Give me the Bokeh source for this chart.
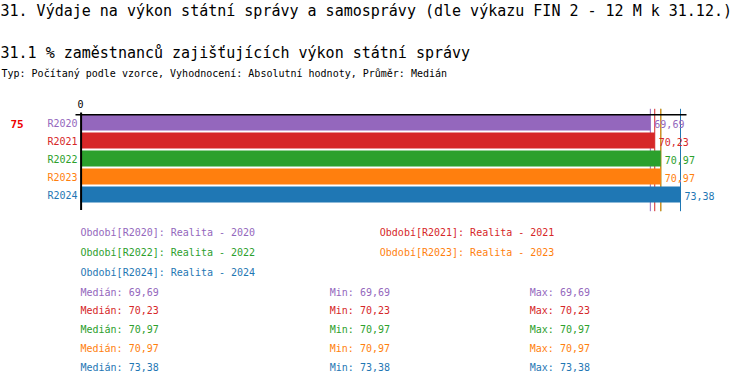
from bokeh.plotting import figure
from bokeh.models import Range1d
from bokeh.core.properties import value
from bokeh.embed import file_html
from bokeh.resources import INLINE

# ---- data ----
title_text = "31. Výdaje na výkon státní správy a samosprávy (dle výkazu FIN 2 - 12 M k 31.12.)"
subtitle_text = "31.1 % zaměstnanců zajišťujících výkon státní správy"
info_text = "Typ: Počítaný podle vzorce, Vyhodnocení: Absolutní hodnoty, Průměr: Medián"
count_label = "75"
periods = ["R2020", "R2021", "R2022", "R2023", "R2024"]
period_names = ["Realita - 2020", "Realita - 2021", "Realita - 2022", "Realita - 2023", "Realita - 2024"]
values = [69.69, 70.23, 70.97, 70.97, 73.38]
medians = [69.69, 70.23, 70.97, 70.97, 73.38]
mins = [69.69, 70.23, 70.97, 70.97, 73.38]
maxs = [69.69, 70.23, 70.97, 70.97, 73.38]
colors = ["#9467bd", "#d62728", "#2ca02c", "#ff7f0e", "#1f77b4"]
x_ticks = [0]

# ---- layout ----
MONO = value("DejaVu Sans Mono")
W, H = 734, 374
X0 = 80.0                  # pixel of value 0
SCALE = 600.0 / 73.38      # px per unit
BAR_TOP = 122.0            # pixel (from top) of first bar centre
STEP = 18.0                # pixel spacing of bars


def fmt(v):
    return f"{v:.2f}".replace(".", ",")


idx = list(range(len(periods)))
y_start = (H - BAR_TOP) / STEP
y_end = -BAR_TOP / STEP

p = figure(width=W, height=H, output_backend="svg", toolbar_location=None,
           x_range=Range1d(-X0 / SCALE, (W - X0) / SCALE),
           y_range=Range1d(y_start, y_end),
           x_axis_location=None, y_axis_location=None, min_border=0)
p.extra_x_ranges = {"px": Range1d(0, W)}
p.extra_y_ranges = {"px": Range1d(H, 0)}
p.grid.visible = False
p.outline_line_color = None
p.background_fill_color = "white"
p.border_fill_color = "white"

PX = 1.0 / SCALE

# reference lines at each value
p.segment(x0=values, x1=values, y0=[108.3] * len(values), y1=[210.7] * len(values),
          line_color=colors, line_width=1, y_range_name="px")

# bars
p.hbar(y=idx, left=0, right=values, height=16.0 / STEP, fill_color=colors, line_color=None)

# axes
p.segment(x0=[-5 * PX], x1=[max(values) + 6 * PX], y0=[114.3], y1=[114.3],
          line_color="black", line_width=1.5, y_range_name="px")
p.segment(x0=[0.6 * PX], x1=[0.6 * PX], y0=[112], y1=[209.5],
          line_color="black", line_width=2, y_range_name="px")
p.text(x=x_ticks, y=[103.5] * len(x_ticks), text=[str(t) for t in x_ticks],
       text_font=MONO, text_font_size="10px", text_align="center", text_baseline="middle",
       text_color="black", y_range_name="px")

# category labels
p.text(x=[0] * len(periods), y=idx, text=periods, x_offset=-3, y_offset=1,
       text_font=MONO, text_font_size="10px", text_align="right", text_baseline="middle",
       text_color=colors)

# value labels
p.text(x=values, y=idx, text=[fmt(v) for v in values], x_offset=4, y_offset=1,
       text_font=MONO, text_font_size="10px", text_align="left", text_baseline="middle",
       text_color=colors)

# count label
p.text(x=[10], y=[123], text=[count_label], text_font=MONO, text_font_size="11px",
       text_font_style="bold", text_align="left", text_baseline="middle", text_color="#ee0000",
       x_range_name="px", y_range_name="px")

# titles
p.text(x=[0], y=[10.5], text=[title_text], text_font=MONO, text_font_size="15px",
       text_align="left", text_baseline="middle", text_color="black",
       x_range_name="px", y_range_name="px")
p.text(x=[0], y=[52], text=[subtitle_text], text_font=MONO, text_font_size="15px",
       text_align="left", text_baseline="middle", text_color="black",
       x_range_name="px", y_range_name="px")
p.text(x=[1], y=[72.5], text=[info_text], text_font=MONO, text_font_size="10px",
       text_align="left", text_baseline="middle", text_color="black",
       x_range_name="px", y_range_name="px")

# legend (two columns)
leg_x = [80 if i % 2 == 0 else 379.3 for i in idx]
leg_y = [232.3 + 20 * (i // 2) for i in idx]
leg_text = [f"Období[{per}]: {name}" for per, name in zip(periods, period_names)]
p.text(x=leg_x, y=leg_y, text=leg_text, text_font=MONO, text_font_size="10px",
       text_align="left", text_baseline="middle", text_color=colors,
       x_range_name="px", y_range_name="px")

# statistics
stat_y = [291.5 + 18.9 * i for i in idx]
for col_x, label, arr in [(80, "Medián", medians), (329.3, "Min", mins), (529.3, "Max", maxs)]:
    p.text(x=[col_x] * len(arr), y=stat_y, text=[f"{label}: {fmt(v)}" for v in arr],
           text_font=MONO, text_font_size="10px", text_align="left", text_baseline="middle",
           text_color=colors, x_range_name="px", y_range_name="px")

open("out.html", "w").write(file_html(p, INLINE))
